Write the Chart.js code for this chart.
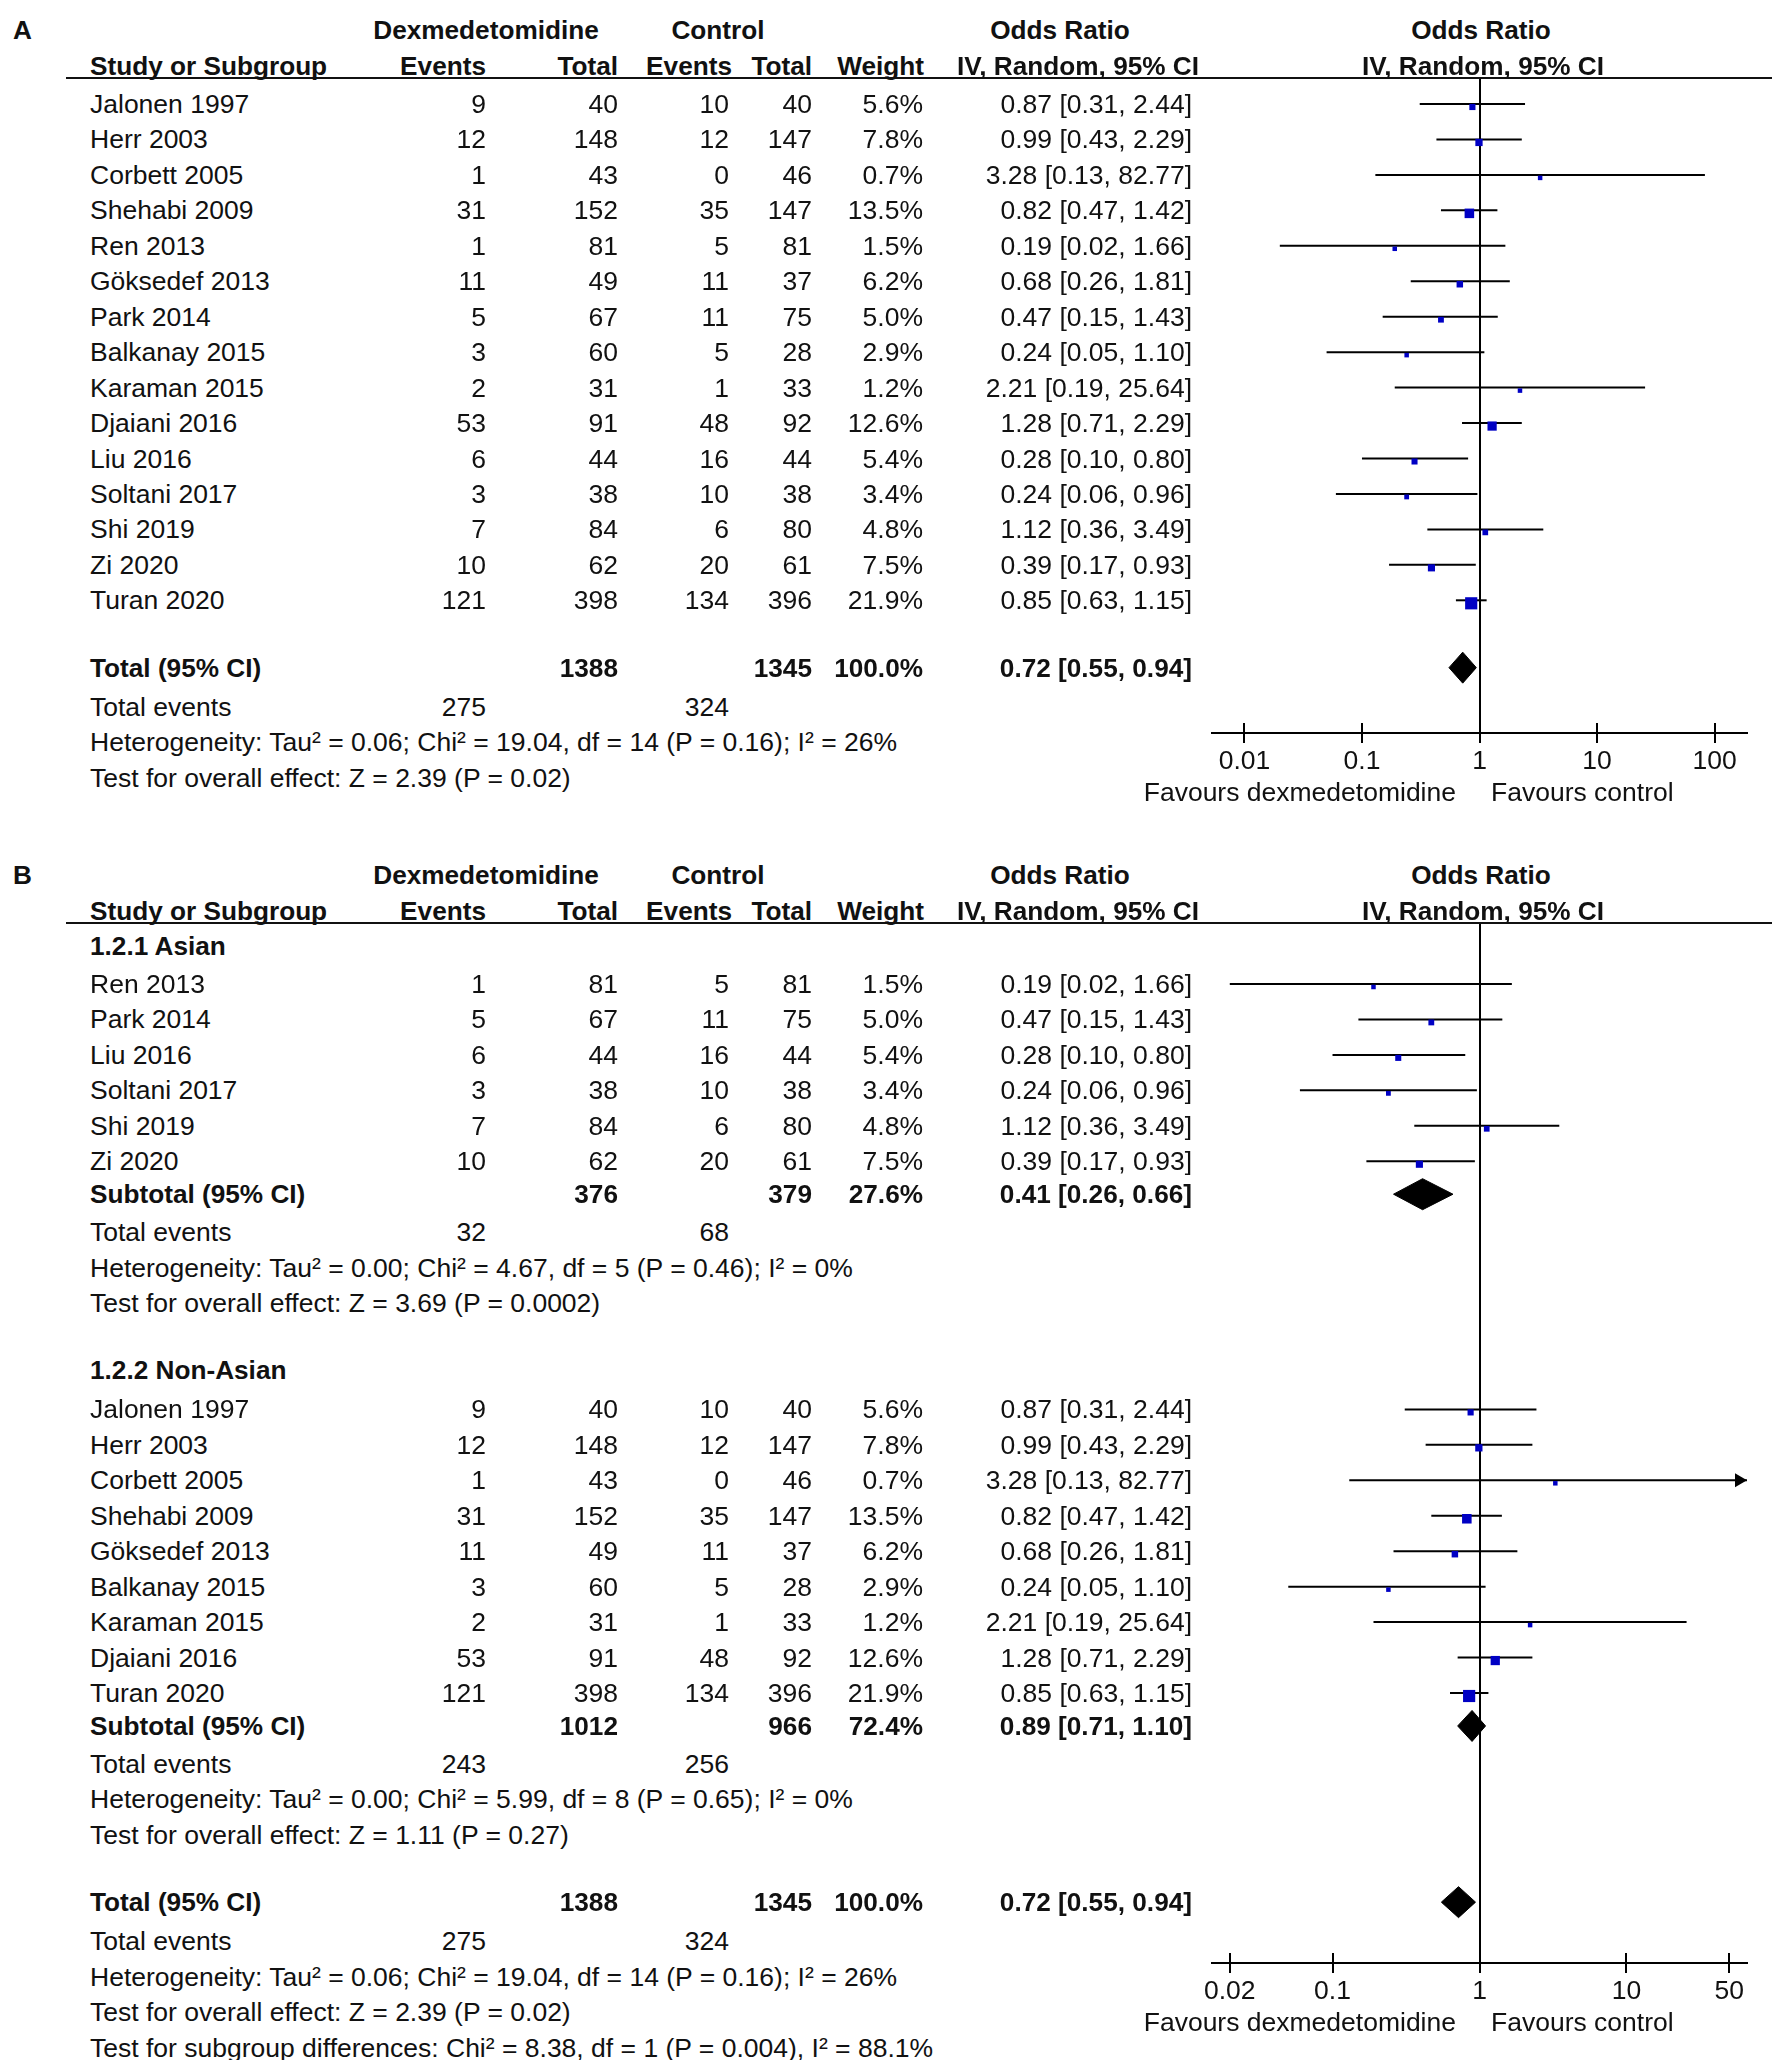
<!DOCTYPE html>
<html>
<head>
<meta charset="utf-8">
<title>Forest plot - dexmedetomidine vs control</title>
<script src="https://cdn.jsdelivr.net/npm/chart.js@4.4.0/dist/chart.umd.min.js"></script>
<style>
  body { margin: 0; background: #fff; }
  #page { position: relative; width: 1772px; height: 2060px; overflow: hidden; background: #fff;
          font-family: "Liberation Sans", Arial, sans-serif; font-size: 26.5px; color: #111; }
  .t { position: absolute; white-space: nowrap; line-height: 30px; z-index: 2; }
  .b { font-weight: bold; font-size: 26.2px; }
  .rule { position: absolute; height: 2px; background: #111; z-index: 2; }
  canvas { position: absolute; z-index: 1; }
</style>
</head>
<body>
<div id="page"></div>
<script>
// ---- data ----
const studies = ['Jalonen 1997', 'Herr 2003', 'Corbett 2005', 'Shehabi 2009', 'Ren 2013', 'Göksedef 2013', 'Park 2014',
  'Balkanay 2015', 'Karaman 2015', 'Djaiani 2016', 'Liu 2016', 'Soltani 2017', 'Shi 2019', 'Zi 2020', 'Turan 2020'];
const dexEvents = [9, 12, 1, 31, 1, 11, 5, 3, 2, 53, 6, 3, 7, 10, 121];
const dexTotal = [40, 148, 43, 152, 81, 49, 67, 60, 31, 91, 44, 38, 84, 62, 398];
const ctrlEvents = [10, 12, 0, 35, 5, 11, 11, 5, 1, 48, 16, 10, 6, 20, 134];
const ctrlTotal = [40, 147, 46, 147, 81, 37, 75, 28, 33, 92, 44, 38, 80, 61, 396];
const weights = [5.6, 7.8, 0.7, 13.5, 1.5, 6.2, 5.0, 2.9, 1.2, 12.6, 5.4, 3.4, 4.8, 7.5, 21.9];
const oddsRatio = [0.87, 0.99, 3.28, 0.82, 0.19, 0.68, 0.47, 0.24, 2.21, 1.28, 0.28, 0.24, 1.12, 0.39, 0.85];
const ciLow = [0.31, 0.43, 0.13, 0.47, 0.02, 0.26, 0.15, 0.05, 0.19, 0.71, 0.10, 0.06, 0.36, 0.17, 0.63];
const ciHigh = [2.44, 2.29, 82.77, 1.42, 1.66, 1.81, 1.43, 1.10, 25.64, 2.29, 0.80, 0.96, 3.49, 0.93, 1.15];

const subgroupNames = ['1.2.1 Asian', '1.2.2 Non-Asian'];
const subgroupStudies = [
  ['Ren 2013', 'Park 2014', 'Liu 2016', 'Soltani 2017', 'Shi 2019', 'Zi 2020'],
  ['Jalonen 1997', 'Herr 2003', 'Corbett 2005', 'Shehabi 2009', 'Göksedef 2013', 'Balkanay 2015', 'Karaman 2015', 'Djaiani 2016', 'Turan 2020']
];
const subDexTotal = [376, 1012];
const subCtrlTotal = [379, 966];
const subWeight = [27.6, 72.4];
const subOR = [0.41, 0.89];
const subLow = [0.26, 0.71];
const subHigh = [0.66, 1.10];
const subDexEvents = [32, 243];
const subCtrlEvents = [68, 256];
const subHeterogeneity = [
  'Heterogeneity: Tau² = 0.00; Chi² = 4.67, df = 5 (P = 0.46); I² = 0%',
  'Heterogeneity: Tau² = 0.00; Chi² = 5.99, df = 8 (P = 0.65); I² = 0%'
];
const subOverall = ['Test for overall effect: Z = 3.69 (P = 0.0002)', 'Test for overall effect: Z = 1.11 (P = 0.27)'];

const totalDex = 1388;
const totalCtrl = 1345;
const totalWeight = 100.0;
const totalOR = 0.72, totalLow = 0.55, totalHigh = 0.94;
const totalDexEvents = 275;
const totalCtrlEvents = 324;
const totalHeterogeneity = 'Heterogeneity: Tau² = 0.06; Chi² = 19.04, df = 14 (P = 0.16); I² = 26%';
const totalOverall = 'Test for overall effect: Z = 2.39 (P = 0.02)';
const subgroupDiff = 'Test for subgroup differences: Chi² = 8.38, df = 1 (P = 0.004), I² = 88.1%';

const ticksA = [0.01, 0.1, 1, 10, 100];
const ticksB = [0.02, 0.1, 1, 10, 50];

// ---- layout ----
const ROW = 35.45;
const COL = { name: 90, dexEv: 486, dexTot: 618, ctrlEv: 729, ctrlTot: 812, weight: 923, or: 1192 };
const PLOT_L = 1212, PLOT_R = 1747;
const panelA = { label: 'A', y1: 30, y2: 66, lineY: 78, row0: 104, axisY: 733, span: 2.276, ticks: ticksA };
const panelB = { label: 'B', y1: 875, y2: 911, lineY: 923, row0: 984, axisY: 1963, span: 1.82, ticks: ticksB };

const page = document.getElementById('page');

function put(text, x, y, align, bold) {
  const d = document.createElement('div');
  d.className = 't' + (bold ? ' b' : '');
  d.textContent = text;
  d.style.top = (y - 15) + 'px';
  if (align === 'right') {
    d.style.right = (1772 - x) + 'px';
  } else if (align === 'center') {
    d.style.left = x + 'px';
    d.style.transform = 'translateX(-50%)';
  } else {
    d.style.left = x + 'px';
  }
  page.appendChild(d);
}

function fmtOR(o, l, h) { return o.toFixed(2) + ' [' + l.toFixed(2) + ', ' + h.toFixed(2) + ']'; }
function fmtW(w) { return w.toFixed(1) + '%'; }

function header(p) {
  put(p.label, 13, p.y1, 'left', true);
  put('Dexmedetomidine', 486, p.y1, 'center', true);
  put('Control', 718, p.y1, 'center', true);
  put('Odds Ratio', 1060, p.y1, 'center', true);
  put('Odds Ratio', 1481, p.y1, 'center', true);
  put('Study or Subgroup', COL.name, p.y2, 'left', true);
  put('Events', COL.dexEv, p.y2, 'right', true);
  put('Total', COL.dexTot, p.y2, 'right', true);
  put('Events', COL.ctrlEv + 3, p.y2, 'right', true);
  put('Total', COL.ctrlTot, p.y2, 'right', true);
  put('Weight', COL.weight + 1, p.y2, 'right', true);
  put('IV, Random, 95% CI', 1078, p.y2, 'center', true);
  put('IV, Random, 95% CI', 1483, p.y2, 'center', true);
  const rule = document.createElement('div');
  rule.className = 'rule';
  rule.style.left = '66px';
  rule.style.width = (1772 - 66) + 'px';
  rule.style.top = (p.lineY - 1) + 'px';
  page.appendChild(rule);
}

function studyRow(p, i, r) {
  const y = p.row0 + r * ROW;
  put(studies[i], COL.name, y, 'left');
  put(String(dexEvents[i]), COL.dexEv, y, 'right');
  put(String(dexTotal[i]), COL.dexTot, y, 'right');
  put(String(ctrlEvents[i]), COL.ctrlEv, y, 'right');
  put(String(ctrlTotal[i]), COL.ctrlTot, y, 'right');
  put(fmtW(weights[i]), COL.weight, y, 'right');
  put(fmtOR(oddsRatio[i], ciLow[i], ciHigh[i]), COL.or, y, 'right');
}

function summaryRow(p, r, name, dTot, cTot, w, o, l, h) {
  const y = p.row0 + r * ROW;
  put(name, COL.name, y, 'left', true);
  put(String(dTot), COL.dexTot, y, 'right', true);
  put(String(cTot), COL.ctrlTot, y, 'right', true);
  put(fmtW(w), COL.weight, y, 'right', true);
  put(fmtOR(o, l, h), COL.or, y, 'right', true);
}

function eventsRow(p, r, d, c) {
  const y = p.row0 + r * ROW;
  put('Total events', COL.name, y, 'left');
  put(String(d), COL.dexEv, y, 'right');
  put(String(c), COL.ctrlEv, y, 'right');
}

function noteRow(p, r, text) {
  put(text, COL.name, p.row0 + r * ROW, 'left');
}

function favours(p) {
  const y = p.axisY + 59;
  put('Favours dexmedetomidine', 1456, y, 'right');
  put('Favours control', 1491, y, 'left');
}

// tick marks that also cross above the axis line
const tickCross = {
  id: 'tickCross',
  afterDraw(chart) {
    const sx = chart.scales.x;
    const ctx = chart.ctx;
    const y = chart.chartArea.bottom;
    ctx.save();
    ctx.strokeStyle = '#000';
    ctx.lineWidth = 2;
    sx.ticks.forEach(t => {
      const px = Math.round(sx.getPixelForValue(t.value));
      ctx.beginPath();
      ctx.moveTo(px, y - 10);
      ctx.lineTo(px, y);
      ctx.stroke();
    });
    ctx.restore();
  }
};

function forest(p, marks, diamonds) {
  const top = p.lineY - 10;
  const height = p.axisY + 45 - top;
  const left = PLOT_L - 40;
  const width = PLOT_R + 25 - left;
  const cv = document.createElement('canvas');
  cv.width = width;
  cv.height = height;
  cv.style.left = left + 'px';
  cv.style.top = top + 'px';
  cv.style.width = width + 'px';
  cv.style.height = height + 'px';
  page.appendChild(cv);

  const xMax = Math.pow(10, p.span);
  const boxOffset = 3 / ROW;
  const halfH = 15.5 / ROW;
  // arrowhead sits just inside the axis end (8px back, in log units)
  const arrowX = xMax / Math.pow(10, 2 * p.span * 8 / (PLOT_R - PLOT_L));

  const datasets = [];
  // study boxes (area ~ weight)
  datasets.push({
    data: marks.map(m => ({ x: oddsRatio[m.i], y: m.r + boxOffset })),
    showLine: false,
    pointStyle: 'rect',
    pointRadius: marks.map(m => Math.max(4.5, 2.6 * Math.sqrt(weights[m.i])) / Math.SQRT2),
    pointBorderWidth: 0,
    pointBackgroundColor: '#0000c4',
    order: 0
  });
  // arrows for intervals running off the scale
  const off = marks.filter(m => ciHigh[m.i] > xMax);
  if (off.length) {
    datasets.push({
      data: off.map(m => ({ x: arrowX, y: m.r })),
      showLine: false,
      pointStyle: 'triangle',
      rotation: 90,
      pointRadius: 8,
      pointBorderWidth: 0,
      pointBackgroundColor: '#000',
      clip: false,
      order: 0
    });
  }
  // summary diamonds: upper half, lower half filled to it
  diamonds.forEach(d => {
    datasets.push({
      data: [{ x: d.lo, y: d.r }, { x: d.est, y: d.r - halfH }, { x: d.hi, y: d.r }],
      borderColor: '#000', borderWidth: 1, pointRadius: 0, fill: false, tension: 0, order: 1
    });
    datasets.push({
      data: [{ x: d.lo, y: d.r }, { x: d.est, y: d.r + halfH }, { x: d.hi, y: d.r }],
      borderColor: '#000', borderWidth: 1, pointRadius: 0, fill: '-1', backgroundColor: '#000', tension: 0, order: 1
    });
  });
  // confidence intervals
  marks.forEach(m => {
    datasets.push({
      data: [{ x: ciLow[m.i], y: m.r }, { x: Math.min(ciHigh[m.i], xMax), y: m.r }],
      borderColor: '#000', borderWidth: 2, pointRadius: 0, fill: false, order: 2
    });
  });

  new Chart(cv, {
    type: 'line',
    data: { datasets },
    options: {
      responsive: false,
      animation: false,
      devicePixelRatio: 1,
      events: [],
      layout: { padding: { left: 40, right: 25, top: 10, bottom: 0 }, autoPadding: false },
      plugins: { legend: { display: false }, tooltip: { enabled: false } },
      scales: {
        x: {
          type: 'logarithmic',
          position: 'bottom',
          bounds: 'data',
          min: Math.pow(10, -p.span),
          max: xMax,
          afterBuildTicks: s => { s.ticks = p.ticks.map(v => ({ value: v })); },
          afterFit: s => { s.height = 45; s.paddingLeft = 0; s.paddingRight = 0; },
          grid: {
            drawOnChartArea: true,
            color: c => (c.tick && c.tick.value === 1) ? '#000' : 'rgba(0,0,0,0)',
            lineWidth: 2,
            drawTicks: true,
            tickLength: 10,
            tickColor: '#000',
            tickWidth: 2
          },
          border: { display: true, color: '#000', width: 2 },
          ticks: {
            autoSkip: false,
            maxRotation: 0,
            minRotation: 0,
            padding: 3,
            color: '#111',
            font: { family: 'Liberation Sans', size: 26.5 },
            callback: v => String(v)
          }
        },
        y: {
          type: 'linear',
          display: false,
          reverse: true,
          min: (p.lineY - p.row0) / ROW,
          max: (p.axisY - p.row0) / ROW
        }
      }
    },
    plugins: [tickCross]
  });
}

// ---- panel A: all studies ----
header(panelA);
const marksA = studies.map((s, i) => ({ i: i, r: i }));
marksA.forEach(m => studyRow(panelA, m.i, m.r));
summaryRow(panelA, 15.9, 'Total (95% CI)', totalDex, totalCtrl, totalWeight, totalOR, totalLow, totalHigh);
eventsRow(panelA, 17, totalDexEvents, totalCtrlEvents);
noteRow(panelA, 18, totalHeterogeneity);
noteRow(panelA, 19, totalOverall);
favours(panelA);
forest(panelA, marksA, [{ lo: totalLow, est: totalOR, hi: totalHigh, r: 15.9 }]);

// ---- panel B: by subgroup ----
header(panelB);
const marksB = [];
const diamondsB = [];
let r = -1.08;
subgroupNames.forEach((g, k) => {
  put(g, COL.name, panelB.row0 + r * ROW, 'left', true);
  let row = Math.round(r) + 1;
  subgroupStudies[k].forEach(name => {
    const i = studies.indexOf(name);
    studyRow(panelB, i, row);
    marksB.push({ i: i, r: row });
    row++;
  });
  const sr = row - 0.07;
  summaryRow(panelB, sr, 'Subtotal (95% CI)', subDexTotal[k], subCtrlTotal[k], subWeight[k], subOR[k], subLow[k], subHigh[k]);
  diamondsB.push({ lo: subLow[k], est: subOR[k], hi: subHigh[k], r: sr });
  eventsRow(panelB, row + 1, subDexEvents[k], subCtrlEvents[k]);
  noteRow(panelB, row + 2, subHeterogeneity[k]);
  noteRow(panelB, row + 3, subOverall[k]);
  r = row + 4.9;
});
const tr = Math.round(r) - 0.1;
summaryRow(panelB, tr, 'Total (95% CI)', totalDex, totalCtrl, totalWeight, totalOR, totalLow, totalHigh);
diamondsB.push({ lo: totalLow, est: totalOR, hi: totalHigh, r: tr });
eventsRow(panelB, tr + 1.1, totalDexEvents, totalCtrlEvents);
noteRow(panelB, tr + 2.1, totalHeterogeneity);
noteRow(panelB, tr + 3.1, totalOverall);
noteRow(panelB, tr + 4.1, subgroupDiff);
favours(panelB);
forest(panelB, marksB, diamondsB);
</script>
</body>
</html>
